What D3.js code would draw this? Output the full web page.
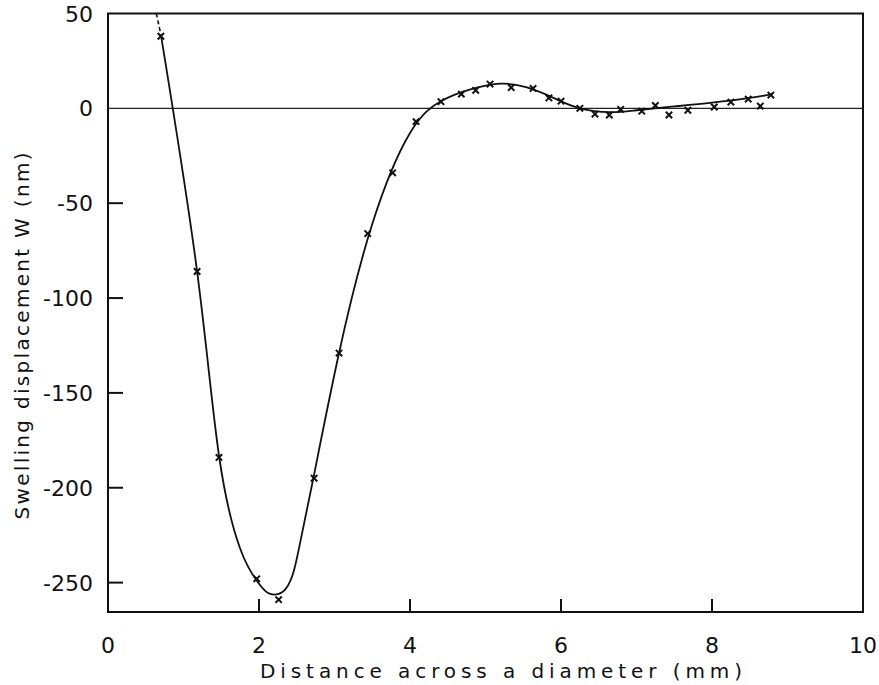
<!DOCTYPE html>
<html>
<head>
<meta charset="utf-8">
<script src="https://cdn.jsdelivr.net/npm/d3@7"></script>
<style>
  body { margin: 0; background: #fff; }
  text { font-family: "DejaVu Sans", sans-serif; fill: #111; }
</style>
</head>
<body>
<div id="graf"></div>
<script>
// measured points (x marks)
const puntosX = [0.70, 1.18, 1.47, 1.97, 2.26, 2.73, 3.06, 3.44, 3.77, 4.08, 4.41, 4.68, 4.87, 5.06, 5.34, 5.63, 5.84, 6.00, 6.25, 6.45, 6.64, 6.79, 7.07, 7.25, 7.43, 7.68, 8.03, 8.25, 8.48, 8.64, 8.78]
const puntosY = [38, -86, -184, -248, -259, -195, -129, -66, -34, -7, 3.5, 7.5, 9.5, 12.8, 11, 10.5, 5.5, 3.8, 0, -3, -3.5, -0.5, -1.5, 1.5, -3.5, -1, 0.7, 3.3, 4.9, 1.2, 7]

// fitted curve
const curvaX = [0.70, 1.18, 1.47, 1.75, 1.97, 2.12, 2.26, 2.36, 2.46, 2.56, 2.72, 3.06, 3.50, 4.00, 4.42, 4.80, 5.20, 5.55, 5.90, 6.25, 6.65, 7.00, 7.50, 8.00, 8.50, 8.80]
const curvaY = [39, -86, -183, -232, -249, -255.5, -256, -253, -244, -226, -195, -129, -61, -13, 4, 10, 13, 11, 5.5, 0, -2, -1, 1, 3, 5.5, 7.5]

// dashed extrapolation at the top
const guionX = [0.64, 0.70]
const guionY = [50, 39]

const ticksX = [0, 2, 4, 6, 8, 10]
const ticksY = [50, 0, -50, -100, -150, -200, -250]

const draw = () => {
  const anchoTotal = 879
  const altoTotal = 685
  const margins = { top: 13.5, right: 16, bottom: 73, left: 108 }

  const x = d3.scaleLinear().domain([0, 10]).range([margins.left, anchoTotal - margins.right])
  const y = d3.scaleLinear().domain([-265.5, 50]).range([altoTotal - margins.bottom, margins.top])

  const svg = d3.select("#graf")
    .append("svg")
    .attr("width", anchoTotal)
    .attr("height", altoTotal)

  const [x0, x1] = x.range()
  const [y0, y1] = y.range()

  // zero line
  svg.append("line")
    .attr("x1", x0).attr("x2", x1)
    .attr("y1", y(0)).attr("y2", y(0))
    .attr("stroke", "#222")
    .attr("stroke-width", 1.3)

  // frame
  svg.append("rect")
    .attr("x", x0).attr("y", y1)
    .attr("width", x1 - x0).attr("height", y0 - y1)
    .attr("fill", "none")
    .attr("stroke", "#111")
    .attr("stroke-width", 2)

  // ticks inward
  svg.append("g")
    .selectAll("line")
    .data(ticksX.filter((d) => d > 0 && d < 10))
    .join("line")
    .attr("x1", (d) => x(d)).attr("x2", (d) => x(d))
    .attr("y1", y0).attr("y2", y0 - 13)
    .attr("stroke", "#111").attr("stroke-width", 2)

  svg.append("g")
    .selectAll("line")
    .data(ticksY.filter((d) => d < 0))
    .join("line")
    .attr("x1", x0).attr("x2", x0 + 15)
    .attr("y1", (d) => y(d)).attr("y2", (d) => y(d))
    .attr("stroke", "#111").attr("stroke-width", 2)

  // tick labels
  svg.append("g")
    .selectAll("text")
    .data(ticksX)
    .join("text")
    .attr("x", (d) => x(d))
    .attr("y", y0 + 41)
    .attr("text-anchor", "middle")
    .style("font-size", "22px")
    .text((d) => d)

  svg.append("g")
    .selectAll("text")
    .data(ticksY)
    .join("text")
    .attr("x", x0 - 15)
    .attr("y", (d) => y(d) + 8)
    .attr("text-anchor", "end")
    .style("font-size", "22px")
    .text((d) => d)

  // axis titles
  svg.append("text")
    .attr("x", 501)
    .attr("y", 678)
    .attr("text-anchor", "middle")
    .attr("textLength", 482)
    .attr("lengthAdjust", "spacing")
    .style("font-size", "20px")
    .text("Distance across a diameter (mm)")

  svg.append("text")
    .attr("transform", `translate(29, 336) rotate(-90)`)
    .attr("text-anchor", "middle")
    .attr("textLength", 367)
    .attr("lengthAdjust", "spacing")
    .style("font-size", "20px")
    .text("Swelling displacement  W  (nm)")

  // curve
  const linea = d3.line()
    .x((d) => x(d[0]))
    .y((d) => y(d[1]))
    .curve(d3.curveNatural)

  svg.append("path")
    .datum(d3.zip(curvaX, curvaY))
    .attr("d", linea)
    .attr("fill", "none")
    .attr("stroke", "#111")
    .attr("stroke-width", 1.8)

  svg.append("path")
    .datum(d3.zip(guionX, guionY))
    .attr("d", d3.line().x((d) => x(d[0])).y((d) => y(d[1])))
    .attr("fill", "none")
    .attr("stroke", "#111")
    .attr("stroke-width", 1.6)
    .attr("stroke-dasharray", "4,3")

  // x marks
  const s = 3.2
  svg.append("g")
    .selectAll("path")
    .data(d3.zip(puntosX, puntosY))
    .join("path")
    .attr("d", (d) => {
      const cx = x(d[0]), cy = y(d[1])
      return `M${cx - s},${cy - s}L${cx + s},${cy + s}M${cx - s},${cy + s}L${cx + s},${cy - s}`
    })
    .attr("stroke", "#111")
    .attr("stroke-width", 2)
}

draw()
</script>
</body>
</html>
